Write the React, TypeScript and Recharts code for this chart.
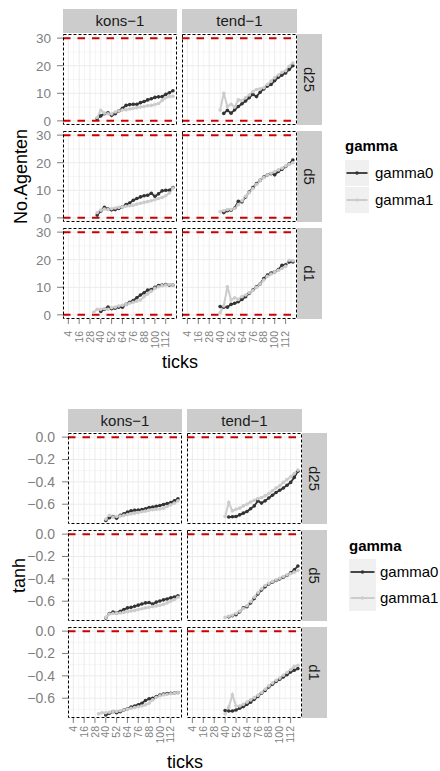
import React from 'react';
import { LineChart, Line, XAxis, YAxis, CartesianGrid, ReferenceLine } from 'recharts';

const FONT = '"Liberation Sans", Arial, Helvetica, sans-serif';
const GREY_TEXT = '#7f7f7f';
const DARK = '#333333';
const LIGHT = '#cccccc';
const RED = '#cc0000';
const STRIP = '#cccccc';
const KEY_BG = '#f0f0f0';
const PAD = 8;

// simulation ticks at which the series were sampled
const sampleTicks = [32, 36, 40, 44, 48, 52, 56, 60, 64, 68, 72, 76, 80, 84, 88, 92, 96, 100, 104, 108, 112, 116, 120];

const xBreaks = [4, 16, 28, 40, 52, 64, 76, 88, 100, 112];
const xMinorBreaks = [-2, 10, 22, 34, 46, 58, 70, 82, 94, 106, 118];
const xLimits: [number, number] = [-1.9, 124.5];

const strategies = ['kons\u22121', 'tend\u22121'];
const distances = ['d25', 'd5', 'd1'];
const gammaLevels = ['gamma0', 'gamma1'];

// No.Agenten
const agentsKonsD25Gamma0 = [null, 0.8, 1.8, 2.6, 2.9, 2.0, 2.6, 3.6, 4.6, 5.6, 5.9, 6.0, 6.0, 6.6, 7.0, 7.6, 8.0, 8.5, 8.7, 8.8, 9.6, 10.2, 10.9];
const agentsKonsD25Gamma1 = [null, 1.2, 3.8, 2.8, 2.6, 2.5, 3.2, 3.6, 3.9, 4.0, 4.3, 4.6, 4.8, 5.0, 5.2, 5.5, 5.6, 5.9, 6.3, 7.4, 8.4, 8.8, 8.9];
const agentsKonsD5Gamma0 = [null, 1.0, 2.5, 3.8, 3.2, 2.9, 3.0, 3.4, 4.0, 4.8, 5.4, 6.4, 7.0, 7.6, 8.0, 8.2, 8.9, 7.8, 8.7, 9.8, 10.0, 10.0, 11.0];
const agentsKonsD5Gamma1 = [null, 1.9, 2.8, 3.2, 3.0, 3.3, 3.6, 3.8, 4.0, 4.2, 4.4, 4.6, 5.0, 5.3, 5.6, 5.9, 6.2, 6.6, 7.0, 7.4, 8.0, 9.0, 10.8];
const agentsKonsD1Gamma0 = [null, null, 1.2, 2.0, 2.8, 2.2, 2.4, 2.8, 2.8, 3.8, 4.6, 5.2, 6.2, 7.2, 8.0, 9.0, 9.2, 10.0, 10.6, 10.8, 11.0, 10.8, 10.8];
const agentsKonsD1Gamma1 = [0.9, 2.0, 2.0, 2.2, 2.0, 2.6, 2.8, 3.2, 3.5, 3.8, 4.2, 4.6, 5.0, 5.4, 6.6, 7.6, 8.6, 9.6, 10.2, 10.6, 10.8, 11.0, 10.8];
const agentsTendD25Gamma0 = [null, null, null, 2.7, 3.8, 2.8, 4.0, 5.2, 6.2, 7.2, 8.4, 9.6, 8.8, 10.4, 11.6, 12.6, 13.2, 14.6, 15.8, 16.6, 17.4, 18.6, 20.0];
const agentsTendD25Gamma1 = [null, null, 3.9, 10.0, 5.2, 6.0, 5.0, 7.6, 7.4, 8.4, 9.4, 10.6, 11.4, 11.6, 12.0, 13.2, 14.4, 15.6, 16.6, 17.6, 18.2, 19.8, 21.0];
const agentsTendD5Gamma0 = [null, null, null, 1.9, 2.6, 2.8, 3.6, 6.0, 5.8, 7.6, 9.4, 11.0, 12.4, 13.6, 14.8, 15.6, 16.0, 15.6, 16.8, 17.6, 18.6, 19.6, 21.0];
const agentsTendD5Gamma1 = [null, null, 2.2, 2.6, 3.0, 3.0, 3.4, 4.8, 6.2, 7.8, 9.2, 10.6, 12.2, 13.6, 14.6, 15.6, 16.2, 16.8, 17.4, 18.0, 18.8, 19.4, 20.0];
const agentsTendD1Gamma0 = [null, null, 3.0, 2.8, 2.8, 3.8, 4.2, 4.8, 5.6, 6.6, 7.8, 9.0, 10.2, 11.2, 13.2, 14.4, 15.2, 15.6, 16.4, 18.0, 18.2, 19.2, 19.2];
const agentsTendD1Gamma1 = [null, null, 0.8, 3.2, 10.2, 5.4, 6.2, 5.6, 6.6, 7.2, 8.0, 8.8, 10.0, 11.2, 12.6, 14.0, 14.8, 15.6, 16.2, 16.8, 17.6, 19.8, 19.6];

// tanh
const tanhKonsD25Gamma0 = [null, null, -0.745, -0.72, -0.71, -0.725, -0.7, -0.685, -0.67, -0.66, -0.655, -0.652, -0.648, -0.64, -0.63, -0.625, -0.618, -0.612, -0.602, -0.594, -0.585, -0.57, -0.552];
const tanhKonsD25Gamma1 = [null, null, -0.735, -0.7, -0.715, -0.71, -0.705, -0.7, -0.693, -0.686, -0.68, -0.675, -0.668, -0.662, -0.655, -0.65, -0.646, -0.642, -0.635, -0.62, -0.605, -0.59, -0.57];
const tanhKonsD5Gamma0 = [null, null, -0.75, -0.71, -0.698, -0.705, -0.69, -0.675, -0.66, -0.655, -0.645, -0.635, -0.625, -0.615, -0.612, -0.625, -0.608, -0.598, -0.588, -0.58, -0.57, -0.562, -0.552];
const tanhKonsD5Gamma1 = [null, null, -0.745, -0.715, -0.71, -0.708, -0.705, -0.7, -0.695, -0.688, -0.682, -0.675, -0.668, -0.66, -0.655, -0.648, -0.642, -0.636, -0.628, -0.615, -0.6, -0.585, -0.565];
const tanhKonsD1Gamma0 = [null, null, -0.75, -0.735, -0.72, -0.73, -0.72, -0.705, -0.695, -0.68, -0.67, -0.658, -0.645, -0.62, -0.605, -0.6, -0.585, -0.572, -0.563, -0.558, -0.556, -0.554, -0.55];
const tanhKonsD1Gamma1 = [-0.74, -0.73, -0.73, -0.725, -0.72, -0.718, -0.712, -0.705, -0.697, -0.69, -0.683, -0.676, -0.67, -0.66, -0.645, -0.615, -0.592, -0.578, -0.57, -0.564, -0.56, -0.556, -0.55];
const tanhTendD25Gamma0 = [null, null, null, -0.715, -0.712, -0.71, -0.695, -0.68, -0.665, -0.64, -0.615, -0.57, -0.59, -0.57, -0.545, -0.52, -0.495, -0.475, -0.455, -0.43, -0.405, -0.36, -0.305];
const tanhTendD25Gamma1 = [null, null, -0.71, -0.585, -0.66, -0.645, -0.635, -0.615, -0.6, -0.58, -0.565, -0.55, -0.54, -0.525, -0.505, -0.48, -0.455, -0.435, -0.405, -0.38, -0.355, -0.325, -0.295];
const tanhTendD5Gamma0 = [null, null, null, -0.74, -0.73, -0.72, -0.695, -0.66, -0.65, -0.615, -0.575, -0.535, -0.5, -0.47, -0.445, -0.43, -0.415, -0.4, -0.385, -0.37, -0.345, -0.32, -0.285];
const tanhTendD5Gamma1 = [null, null, -0.745, -0.735, -0.725, -0.71, -0.69, -0.665, -0.64, -0.605, -0.565, -0.525, -0.49, -0.46, -0.44, -0.425, -0.41, -0.395, -0.38, -0.365, -0.355, -0.34, -0.325];
const tanhTendD1Gamma0 = [null, null, -0.71, -0.715, -0.715, -0.705, -0.69, -0.675, -0.655, -0.635, -0.61, -0.585, -0.555, -0.53, -0.5, -0.475, -0.45, -0.43, -0.41, -0.39, -0.365, -0.35, -0.335];
const tanhTendD1Gamma1 = [null, null, -0.74, -0.68, -0.57, -0.67, -0.67, -0.655, -0.635, -0.615, -0.595, -0.575, -0.55, -0.52, -0.49, -0.465, -0.44, -0.42, -0.395, -0.37, -0.345, -0.315, -0.305];

const agentsBreaks = [0, 10, 20, 30];
const agentsMinorBreaks = [5, 15, 25];
const tanhBreaks = [-0.6, -0.4, -0.2, 0];
const tanhMinorBreaks = [-0.7, -0.5, -0.3, -0.1];

type Series = (number | null)[];

type FigureSpec = {
  stripTop: number;
  stripH: number;
  colX: number[];
  colW: number[];
  rowY: number[];
  rowH: number;
  sideW: number;
  yLimits: [number, number];
  yBreaks: number[];
  yMinor: number[];
  hlines: number[];
  yFmt: (v: number) => string;
  yTickFont: number;
  yTickMargin: number;
  xTickMargin: number;
  xAxisH: number;
  panels: Series[][][]; // [row][col][gamma]
  yTitle: string;
  yTitleX: number;
  xTitleX: number;
  xTitleY: number;
  legend: { x: number; titleY: number; keyY: number[]; keyW: number; keyH: number; labelX: number };
};

const rowsOf = (g0: Series, g1: Series) =>
  sampleTicks.map((x, i) => ({ x, g0: g0[i], g1: g1[i] }));

const agentsFigure: FigureSpec = {
  stripTop: 9,
  stripH: 24,
  colX: [63, 182],
  colW: [114, 115],
  rowY: [34, 131, 228],
  rowH: 91,
  sideW: 25,
  yLimits: [-1.5, 31.5],
  yBreaks: agentsBreaks,
  yMinor: agentsMinorBreaks,
  hlines: [0, 30],
  yFmt: (v) => String(v),
  yTickFont: 13.5,
  yTickMargin: 6,
  xTickMargin: 7,
  xAxisH: 34,
  panels: [
    [[agentsKonsD25Gamma0, agentsKonsD25Gamma1], [agentsTendD25Gamma0, agentsTendD25Gamma1]],
    [[agentsKonsD5Gamma0, agentsKonsD5Gamma1], [agentsTendD5Gamma0, agentsTendD5Gamma1]],
    [[agentsKonsD1Gamma0, agentsKonsD1Gamma1], [agentsTendD1Gamma0, agentsTendD1Gamma1]],
  ],
  yTitle: 'No.Agenten',
  yTitleX: 27,
  xTitleX: 180,
  xTitleY: 368,
  legend: { x: 345, titleY: 151, keyY: [160, 187], keyW: 24, keyH: 26, labelX: 375 },
};

const tanhFigure: FigureSpec = {
  stripTop: 409,
  stripH: 23,
  colX: [68, 187],
  colW: [114, 115],
  rowY: [433, 530, 627],
  rowH: 91,
  sideW: 25,
  yLimits: [-0.777, 0.037],
  yBreaks: tanhBreaks,
  yMinor: tanhMinorBreaks,
  hlines: [0],
  yFmt: (v) => (v === 0 ? '0.0' : '\u2212' + Math.abs(v).toFixed(1)),
  yTickFont: 14,
  yTickMargin: 7,
  xTickMargin: 3,
  xAxisH: 30,
  panels: [
    [[tanhKonsD25Gamma0, tanhKonsD25Gamma1], [tanhTendD25Gamma0, tanhTendD25Gamma1]],
    [[tanhKonsD5Gamma0, tanhKonsD5Gamma1], [tanhTendD5Gamma0, tanhTendD5Gamma1]],
    [[tanhKonsD1Gamma0, tanhKonsD1Gamma1], [tanhTendD1Gamma0, tanhTendD1Gamma1]],
  ],
  yTitle: 'tanh',
  yTitleX: 25,
  xTitleX: 185,
  xTitleY: 768,
  legend: { x: 349, titleY: 551, keyY: [559, 585], keyW: 27, keyH: 26, labelX: 380 },
};

const RotatedTick = (props: any) => {
  const { x, y, payload } = props;
  return (
    <text
      x={x}
      y={y}
      transform={`rotate(-90, ${x}, ${y})`}
      textAnchor="end"
      dy="0.35em"
      fontSize={10.5}
      fill={GREY_TEXT}
      fontFamily={FONT}
    >
      {payload.value}
    </text>
  );
};

function Panel({ spec, row, col }: { spec: FigureSpec; row: number; col: number }) {
  const showY = col === 0;
  const showX = row === spec.rowY.length - 1;
  const x0 = spec.colX[col];
  const w = spec.colW[col];
  const axisW = showY ? x0 : 0;
  const axisH = showX ? spec.xAxisH : 0;
  const [g0, g1] = spec.panels[row][col];
  const data = rowsOf(g0, g1);
  return (
    <div style={{ position: 'absolute', left: showY ? 0 : x0, top: spec.rowY[row] - PAD }}>
      <LineChart
        width={axisW + w}
        height={spec.rowH + axisH + 2 * PAD}
        data={data}
        margin={{ top: PAD, right: 0, bottom: PAD, left: 0 }}
      >
        <CartesianGrid horizontalValues={spec.yMinor} verticalValues={xMinorBreaks} stroke="#f5f5f5" strokeWidth={1} />
        <CartesianGrid horizontalValues={spec.yBreaks} verticalValues={xBreaks} stroke="#ebebeb" strokeWidth={1} />
        <XAxis
          type="number"
          dataKey="x"
          domain={xLimits}
          allowDataOverflow
          ticks={xBreaks}
          interval={0}
          hide={!showX}
          height={axisH}
          tickSize={5}
          tickMargin={spec.xTickMargin}
          axisLine={false}
          tickLine={{ stroke: GREY_TEXT }}
          tick={RotatedTick}
        />
        <YAxis
          type="number"
          domain={spec.yLimits}
          allowDataOverflow
          ticks={spec.yBreaks}
          interval={0}
          hide={!showY}
          width={axisW}
          tickSize={6}
          tickMargin={spec.yTickMargin}
          axisLine={false}
          tickLine={{ stroke: GREY_TEXT }}
          tick={{ fill: GREY_TEXT, fontSize: spec.yTickFont, fontFamily: FONT }}
          tickFormatter={spec.yFmt}
        />
        {spec.hlines.map((h) => (
          <ReferenceLine key={h} y={h} stroke={RED} strokeWidth={2} strokeDasharray="7.5 7" />
        ))}
        <Line type="linear" dataKey="g0" stroke={DARK} strokeWidth={1.8} dot={false} activeDot={false} isAnimationActive={false} />
        <Line type="linear" dataKey="g1" stroke={LIGHT} strokeWidth={2} dot={false} activeDot={false} isAnimationActive={false} />
        <Line type="linear" dataKey="g0" stroke="none" dot={{ r: 1.8, fill: DARK, stroke: 'none' }} activeDot={false} isAnimationActive={false} />
        <Line type="linear" dataKey="g1" stroke="none" dot={{ r: 1.8, fill: LIGHT, stroke: 'none' }} activeDot={false} isAnimationActive={false} />
      </LineChart>
    </div>
  );
}

function Overlay({ spec }: { spec: FigureSpec }) {
  const sideX = spec.colX[1] + spec.colW[1];
  const rowsBottom = spec.rowY[spec.rowY.length - 1] + spec.rowH;
  const yMid = (spec.rowY[0] + rowsBottom) / 2;
  const lg = spec.legend;
  return (
    <svg
      width={440}
      height={771}
      style={{ position: 'absolute', left: 0, top: 0, pointerEvents: 'none' }}
      fontFamily={FONT}
    >
      {/* panel borders */}
      {spec.rowY.map((ry) =>
        spec.colX.map((cx, ci) => (
          <rect
            key={`${ry}-${cx}`}
            x={cx + 0.5}
            y={ry + 0.5}
            width={spec.colW[ci] - 1}
            height={spec.rowH - 1}
            fill="none"
            stroke="#000"
            strokeWidth={1}
            strokeDasharray="3 2"
          />
        ))
      )}
      {/* column strips */}
      {spec.colX.map((cx, ci) => (
        <g key={`top-${ci}`}>
          <rect x={cx} y={spec.stripTop} width={spec.colW[ci]} height={spec.stripH} fill={STRIP} />
          <text x={cx + spec.colW[ci] / 2} y={spec.stripTop + spec.stripH / 2 + 5.3} textAnchor="middle" fontSize={15} fill="#1a1a1a">
            {strategies[ci]}
          </text>
        </g>
      ))}
      {/* row strips */}
      {spec.rowY.map((ry, ri) => {
        const cx = sideX + spec.sideW / 2 - 5.3;
        const cy = ry + spec.rowH / 2;
        return (
          <g key={`side-${ri}`}>
            <rect x={sideX} y={ry} width={spec.sideW} height={spec.rowH} fill={STRIP} />
            <text x={cx} y={cy} transform={`rotate(90, ${cx}, ${cy})`} textAnchor="middle" fontSize={15} fill="#1a1a1a">
              {distances[ri]}
            </text>
          </g>
        );
      })}
      {/* axis titles */}
      <text
        x={spec.yTitleX}
        y={yMid}
        transform={`rotate(-90, ${spec.yTitleX}, ${yMid})`}
        textAnchor="middle"
        fontSize={18}
        fill="#000"
      >
        {spec.yTitle}
      </text>
      <text x={spec.xTitleX} y={spec.xTitleY} textAnchor="middle" fontSize={18} fill="#000">
        ticks
      </text>
      {/* legend */}
      <text x={lg.x} y={lg.titleY} fontSize={15} fontWeight="bold" fill="#000">
        gamma
      </text>
      {gammaLevels.map((name, i) => {
        const ky = lg.keyY[i];
        const mid = ky + lg.keyH / 2;
        const col = i === 0 ? DARK : LIGHT;
        return (
          <g key={name}>
            <rect x={lg.x} y={ky} width={lg.keyW} height={lg.keyH} fill={KEY_BG} />
            <line x1={lg.x + 1.5} x2={lg.x + lg.keyW - 1.5} y1={mid} y2={mid} stroke={col} strokeWidth={i === 0 ? 1.8 : 2} />
            <circle cx={lg.x + lg.keyW / 2} cy={mid} r={1.8} fill={col} />
            <text x={lg.labelX} y={mid + 5.3} fontSize={15} fill="#000">
              {name}
            </text>
          </g>
        );
      })}
    </svg>
  );
}

function Figure({ spec }: { spec: FigureSpec }) {
  return (
    <>
      {spec.rowY.map((_, ri) =>
        spec.colX.map((__, ci) => <Panel key={`${ri}-${ci}`} spec={spec} row={ri} col={ci} />)
      )}
      <Overlay spec={spec} />
    </>
  );
}

export default function App() {
  return (
    <div
      style={{
        position: 'absolute',
        left: 0,
        top: 0,
        width: 440,
        height: 771,
        background: '#ffffff',
        overflow: 'hidden',
        fontFamily: FONT,
      }}
    >
      <Figure spec={agentsFigure} />
      <Figure spec={tanhFigure} />
    </div>
  );
}
